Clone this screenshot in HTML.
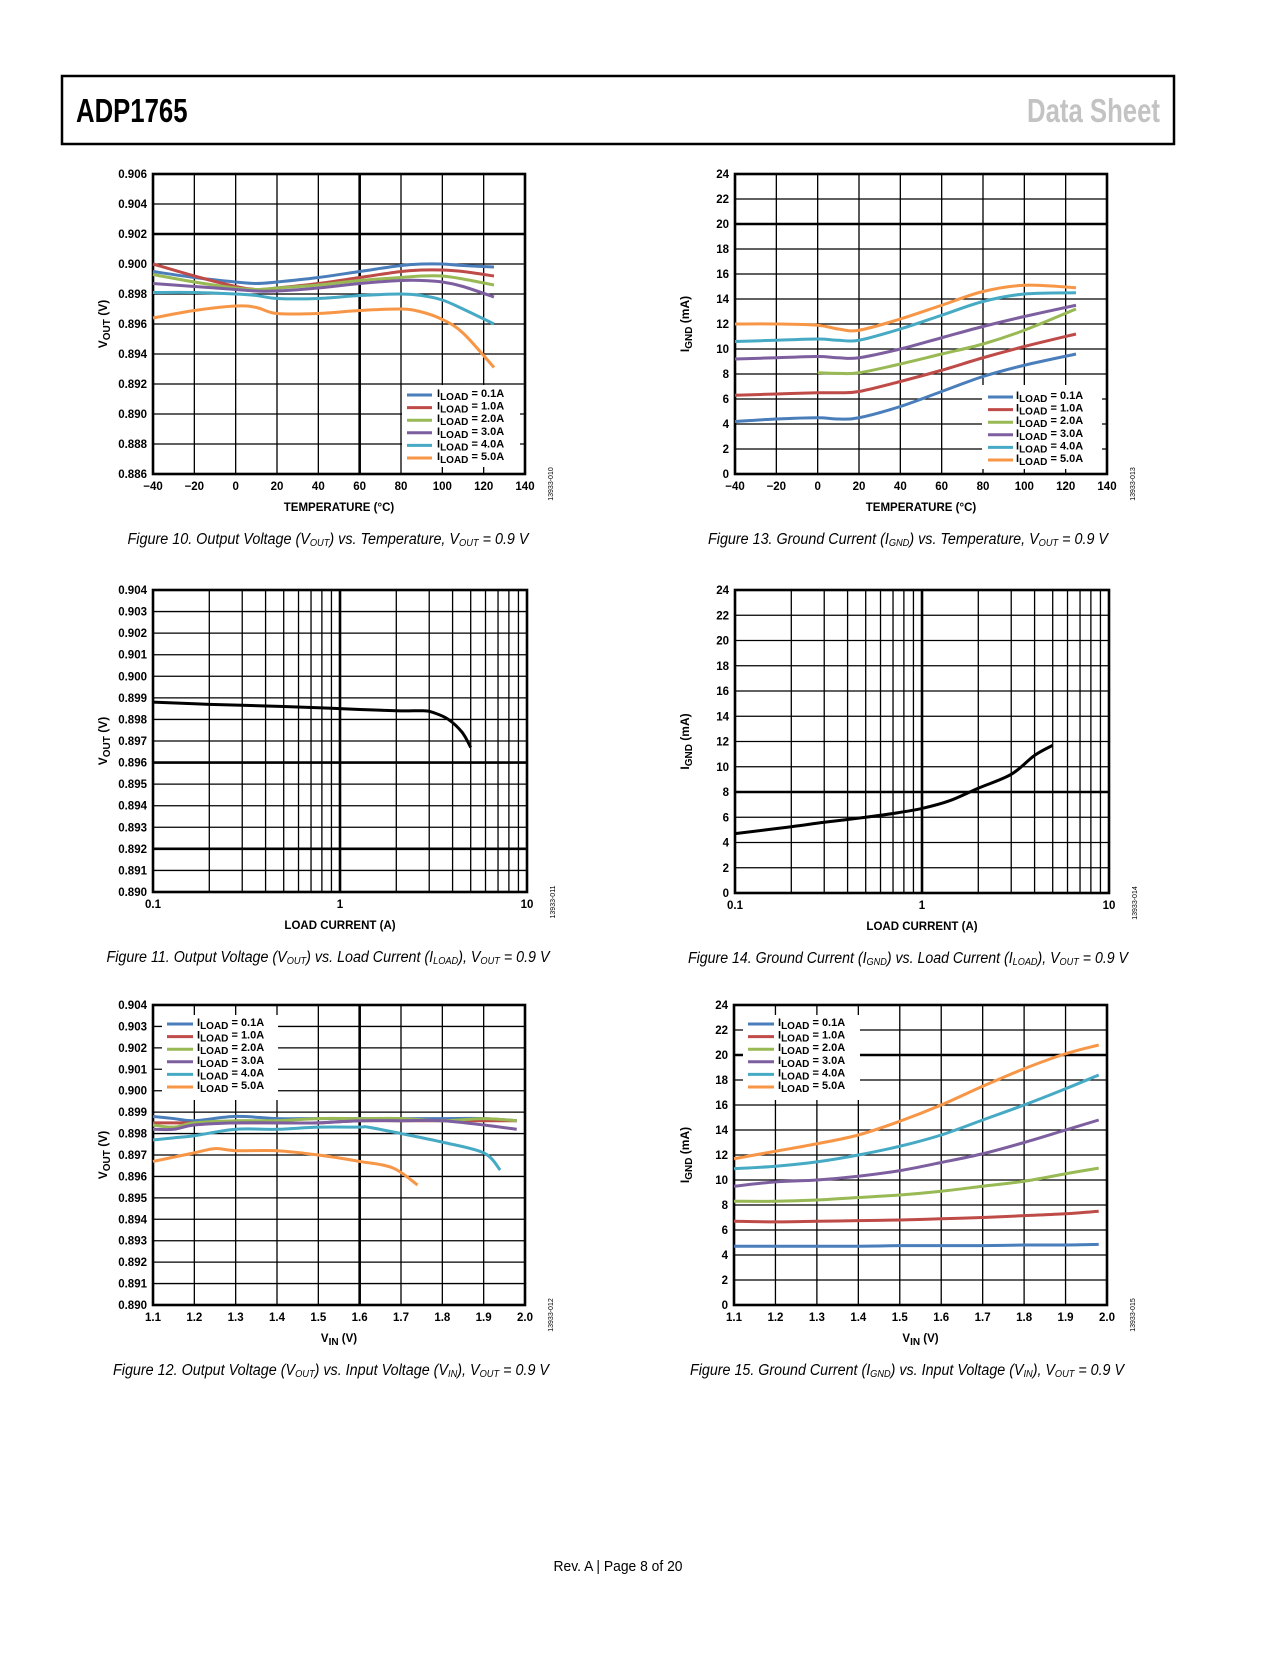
<!DOCTYPE html>
<html><head><meta charset="utf-8"><title>ADP1765 Data Sheet page 8</title>
<style>
html,body{margin:0;padding:0;background:#fff;}
body{width:1275px;height:1650px;position:relative;overflow:hidden;font-family:"Liberation Sans",sans-serif;}
svg text{font-family:"Liberation Sans",sans-serif;}
</style></head>
<body>
<svg id="page" width="1275" height="1650" viewBox="0 0 1275 1650" xmlns="http://www.w3.org/2000/svg">
<rect x="62" y="76" width="1112" height="68" fill="#fff" stroke="#000" stroke-width="2.5"/>
<text x="76" y="122" font-size="33" font-weight="bold" transform="translate(76 0) scale(0.78 1) translate(-76 0)">ADP1765</text>
<text x="1160" y="122" font-size="33" font-weight="bold" fill="#c3c3c3" text-anchor="end" transform="translate(1160 0) scale(0.78 1) translate(-1160 0)">Data Sheet</text>
<text x="618" y="1571" font-size="15" text-anchor="middle" textLength="129" lengthAdjust="spacingAndGlyphs">Rev. A | Page 8 of 20</text>
<g id="charts"></g>
</svg>
<script>
// ---------- Data ----------
const loadLabels = ["0.1A","1.0A","2.0A","3.0A","4.0A","5.0A"];
const seriesColors = ["#4a7ebb","#be4b48","#98b954","#7d5fa0","#46aac5","#f79646"];

// Figure 10: VOUT vs temperature
const f10Temp = [-40,-20,0,10,20,40,60,80,90,100,110,125];
const f10_01 = [0.8995,0.8991,0.8988,0.8987,0.8988,0.8991,0.8995,0.8999,0.9000,0.9000,0.8999,0.8998];
const f10_10 = [0.9000,0.8992,0.8985,0.8983,0.8984,0.8987,0.8991,0.8995,0.8996,0.8996,0.8995,0.8992];
const f10_20 = [0.8993,0.8988,0.8984,0.8983,0.8984,0.8986,0.8989,0.8991,0.8992,0.8992,0.8990,0.8986];
const f10_30 = [0.8987,0.8985,0.8983,0.8982,0.8982,0.8984,0.8987,0.8989,0.8989,0.8988,0.8985,0.8978];
const f10_40 = [0.8981,0.8981,0.8980,0.8979,0.8977,0.8977,0.8979,0.8980,0.8979,0.8976,0.8970,0.8960];
const f10_50 = [0.8964,0.8969,0.8972,0.8971,0.8967,0.8967,0.8969,0.8970,0.8968,0.8963,0.8954,0.8931];
const f10YTicks = [0.886,0.888,0.890,0.892,0.894,0.896,0.898,0.900,0.902,0.904,0.906];
const tempTicks = [-40,-20,0,20,40,60,80,100,120,140];
const tempTickLabels = ["\u221240","\u221220","0","20","40","60","80","100","120","140"];

// Figure 13: IGND vs temperature
const f13Temp = [-40,-20,0,10,20,40,60,80,100,125];
const f13Temp2 = [0,10,20,40,60,80,100,125];
const f13_01 = [4.2,4.4,4.5,4.4,4.5,5.4,6.6,7.8,8.7,9.6];
const f13_10 = [6.3,6.4,6.5,6.5,6.6,7.4,8.3,9.3,10.2,11.2];
const f13_20 = [8.1,8.05,8.1,8.8,9.6,10.4,11.5,13.2];
const f13_30 = [9.2,9.3,9.4,9.3,9.3,10.0,10.9,11.8,12.6,13.5];
const f13_40 = [10.6,10.7,10.8,10.7,10.7,11.6,12.7,13.8,14.4,14.5];
const f13_50 = [12.0,12.0,11.9,11.6,11.5,12.4,13.5,14.6,15.1,14.9];
const igndTicks = [0,2,4,6,8,10,12,14,16,18,20,22,24];

// Figure 11: VOUT vs load current
const f11Load = [0.1,0.2,0.5,1,2,2.8,3.2,3.8,4.5,5];
const f11Vout = [0.8988,0.8987,0.8986,0.8985,0.8984,0.8984,0.8983,0.8980,0.8974,0.8967];
const vTicks1mV = [0.890,0.891,0.892,0.893,0.894,0.895,0.896,0.897,0.898,0.899,0.900,0.901,0.902,0.903,0.904];
const logTickLabels = ["0.1","1","10"];

// Figure 14: IGND vs load current
const f14Load = [0.1,0.2,0.3,0.5,0.7,1,1.4,2,3,4,5];
const f14Ignd = [4.7,5.25,5.6,6.0,6.3,6.7,7.3,8.3,9.4,10.9,11.7];

// Figure 12: VOUT vs VIN
const f12Vin = [1.1,1.15,1.2,1.3,1.4,1.5,1.6,1.7,1.8,1.9,1.98];
const f12Vin4 = [1.1,1.15,1.2,1.3,1.4,1.5,1.6,1.62,1.7,1.8,1.9,1.94];
const f12Vin5 = [1.1,1.15,1.2,1.25,1.3,1.4,1.5,1.6,1.68,1.74];
const f12_01 = [0.8988,0.8987,0.8986,0.8988,0.8987,0.8987,0.8987,0.8987,0.8987,0.8987,0.8986];
const f12_10 = [0.8985,0.8985,0.8985,0.8985,0.8985,0.8985,0.8986,0.8986,0.8986,0.8986,0.8986];
const f12_20 = [0.8984,0.8983,0.8985,0.8986,0.8986,0.8987,0.8987,0.8987,0.8986,0.8987,0.8986];
const f12_30 = [0.8982,0.8982,0.8984,0.8985,0.8985,0.8985,0.8986,0.8986,0.8986,0.8984,0.8982];
const f12_40 = [0.8977,0.8978,0.8979,0.8982,0.8982,0.8983,0.8983,0.8983,0.8980,0.8976,0.8971,0.8963];
const f12_50 = [0.8967,0.8969,0.8971,0.8973,0.8972,0.8972,0.8970,0.8967,0.8964,0.8956];
const vinTicks = [1.1,1.2,1.3,1.4,1.5,1.6,1.7,1.8,1.9,2.0];

// Figure 15: IGND vs VIN
const f15Vin = [1.1,1.2,1.3,1.4,1.5,1.6,1.7,1.8,1.9,1.98];
const f15_01 = [4.7,4.7,4.7,4.7,4.75,4.75,4.75,4.8,4.8,4.85];
const f15_10 = [6.7,6.65,6.7,6.75,6.8,6.9,7.0,7.15,7.3,7.5];
const f15_20 = [8.3,8.3,8.4,8.6,8.8,9.1,9.5,9.9,10.5,10.95];
const f15_30 = [9.5,9.85,10.0,10.3,10.75,11.4,12.1,13.0,14.0,14.8];
const f15_40 = [10.9,11.1,11.45,12.0,12.7,13.6,14.8,16.0,17.3,18.4];
const f15_50 = [11.7,12.3,12.9,13.6,14.7,16.0,17.5,18.9,20.1,20.8];

// ---------- Drawing helpers ----------
const NS = "http://www.w3.org/2000/svg";
const root = document.getElementById("charts");
function mk(tag, attrs, parent){
  const e = document.createElementNS(NS, tag);
  for (const k in attrs) e.setAttribute(k, attrs[k]);
  (parent || root).appendChild(e);
  return e;
}
function smoothPath(pts){
  if (pts.length < 2) return "";
  let d = "M" + pts[0][0].toFixed(2) + "," + pts[0][1].toFixed(2);
  for (let i = 0; i < pts.length - 1; i++){
    const p0 = pts[i-1] || pts[i], p1 = pts[i], p2 = pts[i+1], p3 = pts[i+2] || p2;
    const c1x = p1[0] + (p2[0]-p0[0])/6, c1y = p1[1] + (p2[1]-p0[1])/6;
    const c2x = p2[0] - (p3[0]-p1[0])/6, c2y = p2[1] - (p3[1]-p1[1])/6;
    d += " C" + c1x.toFixed(2)+","+c1y.toFixed(2)+" "+c2x.toFixed(2)+","+c2y.toFixed(2)+" "+p2[0].toFixed(2)+","+p2[1].toFixed(2);
  }
  return d;
}

function chart(c){
  const g = mk("g", {});
  
  
  const L = c.left, R = c.right, T = c.top, B = c.bottom;
  const xs = c.log
    ? v => L + (Math.log10(v) - Math.log10(c.xmin)) / (Math.log10(c.xmax) - Math.log10(c.xmin)) * (R - L)
    : v => L + (v - c.xmin) / (c.xmax - c.xmin) * (R - L);
  const ys = v => B - (v - c.ymin) / (c.ymax - c.ymin) * (B - T);

  // grid
  const grid = mk("g", {}, g);
  
  
  c.yTicks.forEach(v => {
    const thick = c.thickY.some(t => Math.abs(t - v) < 1e-9);
    const ln = mk("line", {x1:L, x2:R, y1:ys(v), y2:ys(v), stroke:"#000", "stroke-width": thick ? 2.6 : 1.3}, grid);
    
    
  });
  let xGrid = [];
  if (c.log){
    for (let dec = c.xmin; dec < c.xmax - 1e-9; dec *= 10)
      for (let m = 1; m < 10; m++) xGrid.push(dec * m);
  } else xGrid = c.xTicks;
  xGrid.forEach(v => {
    const thick = c.thickX.some(t => Math.abs(t - v) < 1e-9);
    const ln = mk("line", {x1:xs(v), x2:xs(v), y1:T, y2:B, stroke:"#000", "stroke-width": thick ? 2.6 : 1.3}, grid);
    
    
  });

  // legend background (covers grid)
  if (c.legend){
    const lg = c.legend;
    const bg = mk("rect", {x:lg.bx, y:lg.by, width:lg.bw, height:lg.bh, fill:"#fff"}, g);
    
    
  }

  const frame = mk("rect", {x:L, y:T, width:R-L, height:B-T, fill:"none", stroke:"#000", "stroke-width":2.6}, g);
  
  

  // series
  c.series.forEach((s, i) => {
    const pts = s.x.map((xv, j) => [xs(xv), ys(s.y[j])]);
    const p = mk("path", {d: smoothPath(pts), fill:"none", stroke:s.color, "stroke-width":3, "stroke-linejoin":"round", "stroke-linecap":"butt"}, g);
    
    
  });

  // y tick labels
  c.yTicks.forEach((v, i) => {
    const t = mk("text", {x:L-6, y:ys(v)+4, "font-size":11.5, "font-weight":"bold", "text-anchor":"end"}, g);
    t.textContent = c.yFmt(v);
    
    
  });
  // x tick labels
  c.xTicks.forEach((v, i) => {
    const t = mk("text", {x:xs(v), y:B+16, "font-size":11.5, "font-weight":"bold", "text-anchor":"middle"}, g);
    t.textContent = c.xLabels[i];
    
    
  });
  // x axis title
  const xt = mk("text", {x:(L+R)/2, y:B+37, "font-size":11.5, "font-weight":"bold", "text-anchor":"middle"}, g);
  xt.innerHTML = c.xTitle;
  
  
  // y axis title
  const ycx = c.yTitleX, ycy = (T+B)/2;
  const yt = mk("text", {x:ycx, y:ycy, "font-size":12, "font-weight":"bold", "text-anchor":"middle", transform:"rotate(-90 "+ycx+" "+ycy+")"}, g);
  yt.innerHTML = c.yTitle;
  
  
  // figure id
  const fx = R + 28, fy = B + 10;
  const fid = mk("text", {x:fx, y:fy, "font-size":7, "text-anchor":"middle", transform:"rotate(-90 "+fx+" "+fy+")"}, g);
  fid.textContent = c.figId;
  
  

  // legend entries
  if (c.legend){
    const lg = c.legend;
    loadLabels.forEach((lab, i) => {
      const yy = lg.y0 + i * 12.6;
      const ln = mk("line", {x1:lg.lx1, x2:lg.lx2, y1:yy, y2:yy, stroke:seriesColors[i], "stroke-width":3}, g);
      
      
      const t = mk("text", {x:lg.tx, y:yy+2, "font-size":11, "font-weight":"bold"}, g);
      t.innerHTML = 'I<tspan font-size="10" dy="3">LOAD</tspan><tspan dy="-3"> = ' + lab + '</tspan>';
      
      
    });
  }

  // caption
  const cap = mk("text", {x:c.capX, y:B+70, "font-size":15.5, "font-style":"italic", "text-anchor":"middle", textLength:c.capW, lengthAdjust:"spacingAndGlyphs"}, g);
  cap.innerHTML = c.caption;
  
  
}

const vFmt = v => v.toFixed(3);
const iFmt = v => String(v);
const VOUT_TITLE = 'V<tspan font-size="10" dy="3">OUT</tspan><tspan dy="-3"> (V)</tspan>';
const IGND_TITLE = 'I<tspan font-size="10" dy="3">GND</tspan><tspan dy="-3"> (mA)</tspan>';
const VIN_TITLE = 'V<tspan font-size="10" dy="3">IN</tspan><tspan dy="-3"> (V)</tspan>';
const sub = s => '<tspan font-size="10" dy="2">' + s + '</tspan><tspan dy="-2">';

function ser(xarr, ys){ return ys.map((y, i) => ({x: Array.isArray(xarr[0]) ? xarr[i] : xarr, y: y, color: seriesColors[i], key: loadLabels[i]})); }

// Figure 10
chart({name:"figure-10-vout-vs-temperature", left:153, right:525, top:174, bottom:474,
  xmin:-40, xmax:140, ymin:0.886, ymax:0.906, xTicks:tempTicks, xLabels:tempTickLabels,
  yTicks:f10YTicks, yFmt:vFmt, thickY:[0.902], thickX:[60],
  series: ser(f10Temp, [f10_01,f10_10,f10_20,f10_30,f10_40,f10_50]),
  xTitle:"TEMPERATURE (°C)", yTitle:VOUT_TITLE, yTitleX:107, figId:"13933-010",
  legend:{bx:402, by:385, bw:118, bh:82, lx1:407, lx2:432, tx:437, y0:395},
  capX:328, capW:401,
  caption:'Figure 10. Output Voltage (V' + sub('OUT') + ') vs. Temperature, V' + sub('OUT') + ' = 0.9 V</tspan>'.replace('</tspan> vs','</tspan> vs')});

// Figure 13
chart({name:"figure-13-ignd-vs-temperature", left:735, right:1107, top:174, bottom:474,
  xmin:-40, xmax:140, ymin:0, ymax:24, xTicks:tempTicks, xLabels:tempTickLabels,
  yTicks:igndTicks, yFmt:iFmt, thickY:[20], thickX:[],
  series: ser([f13Temp,f13Temp,f13Temp2,f13Temp,f13Temp,f13Temp], [f13_01,f13_10,f13_20,f13_30,f13_40,f13_50]),
  xTitle:"TEMPERATURE (°C)", yTitle:IGND_TITLE, yTitleX:689, figId:"13933-013",
  legend:{bx:982, by:385, bw:120, bh:84, lx1:988, lx2:1013, tx:1016, y0:397},
  capX:908, capW:400,
  caption:'Figure 13. Ground Current (I' + sub('GND') + ') vs. Temperature, V' + sub('OUT') + ' = 0.9 V</tspan>'});

// Figure 11
chart({name:"figure-11-vout-vs-load-current", left:153, right:527, top:590, bottom:892,
  log:true, xmin:0.1, xmax:10, ymin:0.890, ymax:0.904, xTicks:[0.1,1,10], xLabels:logTickLabels,
  yTicks:vTicks1mV, yFmt:vFmt, thickY:[0.896,0.892], thickX:[1],
  series:[{x:f11Load, y:f11Vout, color:"#000", key:"vout"}],
  xTitle:"LOAD CURRENT (A)", yTitle:VOUT_TITLE, yTitleX:107, figId:"13933-011",
  capX:328, capW:443,
  caption:'Figure 11. Output Voltage (V' + sub('OUT') + ') vs. Load Current (I' + sub('LOAD') + '), V' + sub('OUT') + ' = 0.9 V</tspan></tspan>'});

// Figure 14
chart({name:"figure-14-ignd-vs-load-current", left:735, right:1109, top:590, bottom:893,
  log:true, xmin:0.1, xmax:10, ymin:0, ymax:24, xTicks:[0.1,1,10], xLabels:logTickLabels,
  yTicks:igndTicks, yFmt:iFmt, thickY:[8], thickX:[1],
  series:[{x:f14Load, y:f14Ignd, color:"#000", key:"ignd"}],
  xTitle:"LOAD CURRENT (A)", yTitle:IGND_TITLE, yTitleX:689, figId:"13933-014",
  capX:908, capW:440,
  caption:'Figure 14. Ground Current (I' + sub('GND') + ') vs. Load Current (I' + sub('LOAD') + '), V' + sub('OUT') + ' = 0.9 V</tspan></tspan>'});

// Figure 12
chart({name:"figure-12-vout-vs-vin", left:153, right:525, top:1005, bottom:1305,
  xmin:1.1, xmax:2.0, ymin:0.890, ymax:0.904, xTicks:vinTicks, xLabels:vinTicks.map(v=>v.toFixed(1)),
  yTicks:vTicks1mV, yFmt:vFmt, thickY:[], thickX:[1.6],
  series: ser([f12Vin,f12Vin,f12Vin,f12Vin,f12Vin4,f12Vin5], [f12_01,f12_10,f12_20,f12_30,f12_40,f12_50]),
  xTitle:VIN_TITLE, yTitle:VOUT_TITLE, yTitleX:107, figId:"13933-012",
  legend:{bx:162, by:1015, bw:116, bh:85, lx1:167, lx2:193, tx:197, y0:1024},
  capX:331, capW:436,
  caption:'Figure 12. Output Voltage (V' + sub('OUT') + ') vs. Input Voltage (V' + sub('IN') + '), V' + sub('OUT') + ' = 0.9 V</tspan></tspan>'});

// Figure 15
chart({name:"figure-15-ignd-vs-vin", left:734, right:1107, top:1005, bottom:1305,
  xmin:1.1, xmax:2.0, ymin:0, ymax:24, xTicks:vinTicks, xLabels:vinTicks.map(v=>v.toFixed(1)),
  yTicks:igndTicks, yFmt:iFmt, thickY:[20], thickX:[],
  series: ser(f15Vin, [f15_01,f15_10,f15_20,f15_30,f15_40,f15_50]),
  xTitle:VIN_TITLE, yTitle:IGND_TITLE, yTitleX:689, figId:"13933-015",
  legend:{bx:743, by:1015, bw:117, bh:85, lx1:748, lx2:774, tx:778, y0:1024},
  capX:907, capW:434,
  caption:'Figure 15. Ground Current (I' + sub('GND') + ') vs. Input Voltage (V' + sub('IN') + '), V' + sub('OUT') + ' = 0.9 V</tspan></tspan>'});
</script>
</body></html>
